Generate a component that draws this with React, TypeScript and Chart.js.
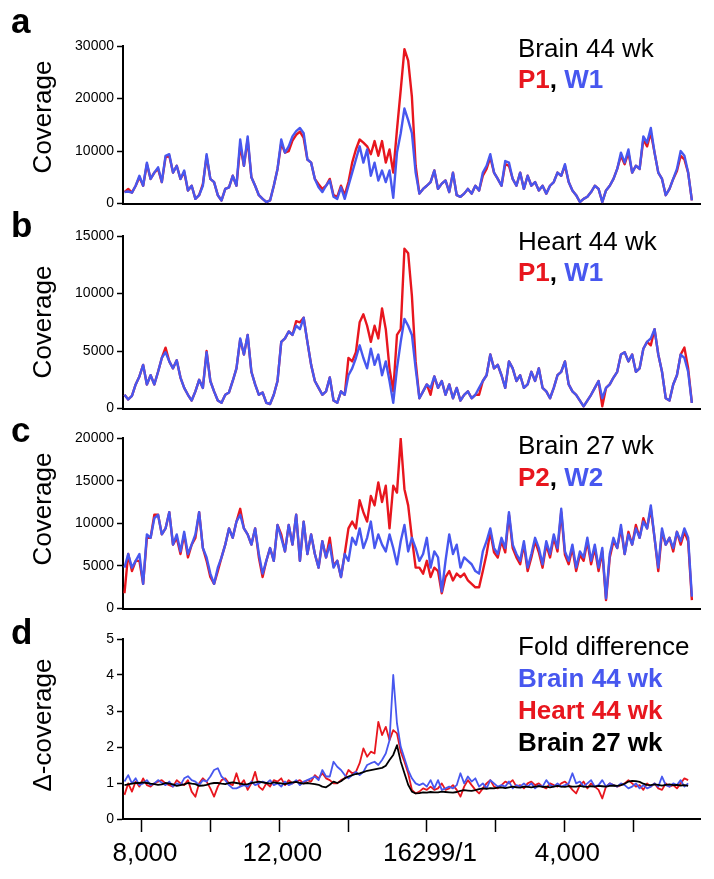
import React, { useEffect, useRef } from 'react';
import { Chart, registerables } from 'chart.js';

Chart.register(...registerables);

const FONT = 'Arial, "Liberation Sans", Helvetica, sans-serif';
const RED = '#e8161e';
const BLUE = '#4757ef';
const BLACK = '#000000';

// genomic axis (unwrapped: positions after 16299/1 are shown as 16299 + pos)
const X_MIN = 7447;
const X_MAX = 24249;
const X_START = 7490;
const X_STEP = 108.7;
const X_TICKS = [8000, 10000, 12000, 14000, 16299, 18299, 20299, 22299];
const X_TICK_LABELS = ['8,000', '', '12,000', '', '16299/1', '', '4,000', ''];

// a: Brain 44 wk
const A_W1 = [2200,2300,2100,3400,5300,3400,7800,4700,5900,6900,
4100,9100,9400,5900,7200,4700,6300,2500,3400,900,
1600,3400,9400,4700,4100,1600,600,2800,3100,5300,
3400,12200,7200,12800,5000,3400,1600,900,300,600,
3400,6600,12200,9700,10900,12800,13800,14400,13400,8400,
7800,4700,3100,2200,3400,4400,1300,900,3100,900,
3400,5900,8400,10900,7800,10300,5300,7800,4400,6300,
4100,6300,1100,9700,13400,18100,15900,13400,5900,1900,
2800,3400,4100,6300,2800,3800,4400,2200,5900,1600,
1300,1900,2800,1900,3400,2500,5900,7200,9400,5900,
4700,3400,8100,7800,4700,3400,5900,2800,5300,3400,
4100,2500,3400,1900,3400,4100,5900,5300,7500,4100,
2500,1600,300,900,1300,2200,3400,2800,300,2500,
3400,4700,6600,9700,7800,10300,5900,7200,6600,12800,
11600,14400,9700,5900,4700,1600,2800,4700,6600,10000,
9100,5900,600];
const A_P1 = [2200,2800,2100,3400,5000,3400,7500,4700,5900,6600,
4100,8800,9100,5900,7200,4700,6000,2500,3400,900,
1600,3700,9000,4700,4100,1600,600,2800,3100,5300,
3400,11000,7200,12200,5000,3400,1600,900,300,600,
3400,6600,11500,9700,10000,12000,13100,13700,12500,8400,
7800,4700,3700,2800,3400,4700,1600,1300,3400,1600,
4100,7800,10300,12200,11600,10900,9400,11900,9100,11900,
7800,10300,5900,14100,21600,29400,27200,20300,7200,1900,
2800,3400,4100,6300,2800,3800,4400,2200,5900,1600,
1300,1900,2800,1900,3400,2500,5300,6600,8800,5900,
4700,3400,7500,7200,4700,3400,5900,2800,5300,3400,
4100,2500,3400,1900,3400,4100,5900,5300,7200,4100,
2500,1600,300,900,1300,2200,3400,2800,300,2500,
3400,4700,6600,9100,7500,9700,5900,7200,6600,12200,
10900,13500,9700,5900,4700,1600,2800,4700,6200,9100,
8400,5900,600];

// b: Heart 44 wk
const B_W1 = [1200,800,1100,2100,2800,3800,2100,2900,2100,3200,
4400,4900,4100,3500,4200,2700,1800,1200,700,1500,
2500,1800,4900,2400,1500,700,500,1200,1400,2400,
3500,6100,4700,6400,3200,2100,1200,1400,500,400,
1200,2400,5800,6100,6700,6400,7200,6900,7900,5800,
3800,2400,1800,1200,1500,2700,700,500,1500,1200,
2900,3500,4400,5500,4400,3500,5200,3800,4700,2900,
4100,2400,500,3500,5800,7800,7200,6400,3500,900,
1500,2100,1800,2800,1800,2400,1200,2100,900,1800,
700,1200,1500,900,1200,1800,2400,2900,4700,3500,
3800,2900,1800,4100,3500,2400,2900,1800,2100,3200,
2400,3500,1800,1500,900,1800,2900,3200,4100,2100,
1500,1200,700,200,700,1200,1800,2400,900,1800,
2100,2700,3200,4700,4900,4100,4700,3200,3500,5200,
5800,6100,6900,4700,3200,900,700,2100,2900,4700,
4400,3200,500];
const B_P1 = [1200,800,1100,2100,2800,3800,2100,2900,2100,3200,
4400,5300,4100,3500,4200,2700,1800,1200,700,1500,
2500,1800,5000,2400,1500,700,500,1200,1400,2400,
3500,6000,4700,6400,3200,2100,1200,1400,500,400,
1200,2400,5800,6100,6700,6400,7600,7500,7900,5800,
3800,2400,1800,1200,1500,2700,700,500,1500,1200,
4400,4100,4900,7500,8200,7200,5800,7200,6100,8700,
6900,3500,1500,6400,6900,13900,13500,9800,4100,900,
1500,2100,1200,2800,1800,2400,1200,2100,900,1800,
700,1200,1500,900,1200,1200,2400,2900,4700,3500,
3800,2900,1800,4100,3500,2400,2900,1800,2100,3200,
2400,3500,1800,1500,900,1800,2900,3200,4100,2100,
1500,1200,700,200,700,1200,1800,2400,200,1800,
2100,2700,3200,4700,4900,4100,4700,3200,3500,5200,
5800,5500,6900,4700,3200,900,700,2100,2900,4700,
5300,3500,500];

// c: Brain 27 wk
const C_W2 = [4800,6400,4800,5600,6400,2900,8700,8300,10600,11000,
8700,9400,11300,7500,8700,6700,9000,6400,7500,8700,
11300,7100,6000,4100,2900,4800,6000,7500,9400,8300,
10200,11000,9400,8700,7500,9400,6400,4100,5600,7100,
5600,9800,8300,6700,9800,7500,11000,5600,10200,6400,
8700,6400,4800,7900,6000,7500,4800,5600,3700,6400,
5600,8300,7500,9400,7100,8300,10200,7100,8700,7500,
6700,8700,7100,5200,7900,9800,6700,8300,7100,5600,
6400,8300,4800,6700,6000,2000,5600,8700,6400,7500,
4800,6000,5600,5200,4400,4100,6700,7900,9400,7100,
6400,8300,7100,11300,7500,6400,5600,7900,4800,6400,
8300,7100,5200,7900,6400,8700,7100,11700,6700,5600,
7500,4800,6700,6000,8300,5600,7500,4800,7100,1200,
6400,8300,7100,9800,6400,8700,7500,9400,8300,10200,
9400,12100,8300,4800,9400,7500,8300,7100,9000,7900,
9400,8300,1400];
const C_P2 = [1800,6400,4400,5600,5600,2900,8300,8300,11000,11000,
8700,9400,11300,7500,8300,6400,8700,6000,7500,8300,
11300,7100,5600,3700,2900,4400,6000,7500,9400,8300,
10200,11700,9400,8700,7500,9400,6000,3700,5600,7100,
5600,9800,8700,6700,9800,7500,11000,5600,10200,6400,
8700,6400,4800,7900,6000,8300,5000,5600,3700,6400,
9400,10200,9400,12700,11300,10200,13200,12100,14800,12500,
14400,9400,14400,13600,19900,14000,12100,8300,4800,4800,
4100,5600,3700,4800,4400,1800,3700,4400,3300,4100,
3700,4100,3300,2900,2500,2500,4400,6400,9000,6600,
6000,7900,6600,11000,7100,6000,5200,7500,4400,6000,
7900,6600,4800,7500,6000,8300,6700,11300,6300,5200,
7100,4400,6300,5600,7900,5200,7100,4400,6700,1000,
6000,7900,7100,9400,6400,9000,7500,9800,8300,10600,
9400,11700,8300,4400,9000,7500,8300,6700,9000,7500,
9000,7900,1000];

// d: fold difference
const D_BRAIN44 = [1.04,1.22,0.99,1.13,0.94,0.99,1.08,0.94,0.99,1.08,
1.01,0.94,1.04,0.90,0.99,0.94,1.13,1.19,1.08,1.04,
0.94,1.08,1.04,1.18,1.36,1.41,1.18,1.08,0.94,0.85,
0.85,0.90,0.94,0.90,1.04,0.94,0.99,1.04,0.99,1.08,
0.94,0.99,0.90,1.04,0.94,0.99,1.08,0.94,1.04,1.08,
1.13,1.18,1.08,1.36,1.18,1.18,1.59,1.45,1.36,1.22,
1.13,1.22,1.31,1.22,1.31,1.50,1.55,1.59,1.50,1.64,
1.82,2.19,4.00,2.66,2.01,1.69,1.36,1.13,0.99,0.94,
0.99,0.90,1.08,0.85,1.08,0.81,0.85,0.90,0.85,0.94,
1.27,0.99,1.18,1.04,1.13,0.90,0.99,0.85,1.08,0.99,
0.90,0.94,0.90,1.04,0.85,0.94,0.90,0.99,0.90,0.99,
0.85,0.94,0.90,1.08,0.94,0.90,0.99,0.90,0.94,0.99,
1.27,0.99,1.04,0.90,0.99,1.08,0.90,0.94,1.08,0.90,
0.99,0.94,0.90,0.99,0.94,0.85,0.90,0.99,0.85,0.94,
0.85,0.90,0.99,0.90,1.18,0.94,0.90,0.99,0.94,1.08,
0.90,0.99];
const D_HEART44 = [0.67,0.99,0.76,1.04,0.90,1.13,0.94,0.90,0.99,1.04,
1.08,0.99,0.94,0.90,1.08,0.99,0.94,1.08,0.76,0.62,
0.99,1.13,1.04,0.85,0.62,0.90,1.08,1.13,0.99,0.94,
1.27,0.94,1.08,0.81,0.99,1.31,0.90,0.81,0.99,0.90,
1.08,1.04,1.13,0.94,1.08,0.99,1.04,1.08,0.99,1.08,
1.04,1.22,1.13,1.27,1.13,1.08,0.99,0.99,1.08,1.13,
1.36,1.27,1.31,1.55,1.96,1.73,1.87,1.82,2.70,2.33,
2.56,2.19,2.47,2.38,1.87,1.59,1.27,0.81,0.71,0.76,
0.85,0.81,0.90,0.81,0.85,0.99,0.81,0.85,0.94,0.81,
0.62,0.90,1.08,0.94,0.81,0.71,0.85,0.99,1.08,0.90,
0.85,0.94,1.04,0.99,1.08,0.90,0.94,0.85,0.99,1.04,
0.94,0.99,0.90,0.85,0.99,0.94,0.90,0.99,1.04,0.94,
0.81,0.71,0.94,1.04,0.85,0.99,0.90,0.81,0.57,0.90,
0.99,0.94,0.90,0.94,0.99,1.08,0.99,0.90,0.94,0.81,
0.99,0.90,0.99,0.85,0.81,0.99,0.90,0.94,0.85,0.99,
1.13,1.08];
const D_BRAIN27 = [0.94,0.96,0.98,1.0,1.0,1.02,1.0,0.98,0.97,0.95,
0.96,1.0,0.98,0.96,0.92,0.94,0.96,1.0,0.98,0.97,
0.92,0.93,0.95,0.98,1.0,1.0,0.98,0.97,1.0,1.02,
1.0,0.98,0.96,0.97,1.0,1.02,1.04,1.02,1.0,0.98,
1.02,1.0,0.99,0.97,1.0,1.02,1.03,1.0,0.98,1.0,
0.98,0.97,0.95,0.90,0.88,0.95,1.04,1.0,1.05,1.13,
1.18,1.22,1.25,1.27,1.3,1.34,1.36,1.38,1.4,1.42,
1.48,1.64,1.78,2.05,1.6,1.27,0.95,0.76,0.71,0.72,
0.74,0.73,0.75,0.74,0.74,0.76,0.75,0.74,0.73,0.75,
0.78,0.8,0.79,0.78,0.8,0.83,0.85,0.84,0.86,0.85,
0.87,0.88,0.86,0.88,0.9,0.88,0.87,0.9,0.89,0.88,
0.9,0.91,0.89,0.9,0.88,0.9,0.92,0.9,0.89,0.91,
0.9,0.9,0.92,0.9,0.89,0.91,0.9,0.92,0.91,0.9,
0.92,0.93,0.92,0.94,0.98,1.04,1.06,1.05,1.03,0.98,
0.95,0.94,0.96,0.95,0.93,0.95,0.96,0.94,0.95,0.93,
0.94,0.92];

type Series = { data: number[]; color: string; width: number };

type PanelProps = {
  top: number;
  height: number;
  padTop: number;
  padBottom: number;
  yMax: number;
  yStep: number;
  series: Series[];
  xLabels: boolean;
  halfTicks?: boolean;
};

function LinePanel(p: PanelProps) {
  const ref = useRef<HTMLCanvasElement | null>(null);
  useEffect(() => {
    if (!ref.current) return;
    const chart = new Chart(ref.current, {
      type: 'line',
      data: {
        datasets: p.series.map((s) => ({
          data: s.data.map((y, i) => ({ x: X_START + i * X_STEP, y })),
          borderColor: s.color,
          borderWidth: s.width,
          pointRadius: 0,
          tension: 0,
          fill: false,
          borderJoinStyle: 'round' as const,
        })),
      },
      options: {
        responsive: false,
        animation: false,
        devicePixelRatio: 1,
        events: [],
        layout: { padding: { top: p.padTop, bottom: p.padBottom, left: 0, right: 14 } },
        plugins: { legend: { display: false }, tooltip: { enabled: false } },
        scales: {
          x: {
            type: 'linear',
            min: X_MIN,
            max: X_MAX,
            afterBuildTicks: (s: any) => {
              s.ticks = X_TICKS.map((v) => ({ value: v }));
            },
            ticks: {
              display: p.xLabels,
              autoSkip: false,
              maxRotation: 0,
              minRotation: 0,
              padding: 6,
              labelOffset: 3,
              color: '#000',
              font: { family: FONT, size: 26 },
              callback: (_v: any, i: number) => X_TICK_LABELS[i] ?? '',
            },
            grid: {
              display: true,
              drawOnChartArea: false,
              drawTicks: p.xLabels,
              tickLength: 13,
              tickWidth: 1.5,
              tickColor: '#000',
            },
            border: { display: true, color: '#000', width: 2 },
            afterFit: (s: any) => {
              s.height = p.xLabels ? 60 : 0;
            },
          },
          y: {
            min: 0,
            max: p.yMax,
            ticks: {
              stepSize: p.yStep,
              padding: 3,
              color: '#000',
              font: { family: FONT, size: 14 },
              callback: (v: any) =>
                p.halfTicks ? (Number.isInteger(v) ? String(v) : '') : String(v),
            },
            grid: {
              display: true,
              drawOnChartArea: false,
              drawTicks: true,
              tickLength: 6,
              tickWidth: 1.5,
              tickColor: '#000',
            },
            border: { display: true, color: '#000', width: 2 },
            afterFit: (s: any) => {
              s.width = 123;
            },
          },
        },
      },
    });
    return () => chart.destroy();
  }, []);
  return (
    <canvas
      ref={ref}
      width={714}
      height={p.height}
      style={{ position: 'absolute', left: 0, top: p.top, width: 714, height: p.height }}
    />
  );
}

type Txt = { text: string; left: number; top: number; size: number; bold?: boolean; color?: string };

const texts: Txt[] = [
  { text: 'a', left: 11, top: 3, size: 35, bold: true },
  { text: 'b', left: 11, top: 207, size: 35, bold: true },
  { text: 'c', left: 11, top: 412, size: 35, bold: true },
  { text: 'd', left: 11, top: 614, size: 35, bold: true },
  { text: 'Brain 44 wk', left: 518, top: 35, size: 26 },
  { text: 'Heart 44 wk', left: 518, top: 228, size: 26 },
  { text: 'Brain 27 wk', left: 518, top: 432, size: 26 },
  { text: 'Fold difference', left: 518, top: 633, size: 26 },
  { text: 'Brain 44 wk', left: 518, top: 665, size: 26, bold: true, color: BLUE },
  { text: 'Heart 44 wk', left: 518, top: 697, size: 26, bold: true, color: RED },
  { text: 'Brain 27 wk', left: 518, top: 729, size: 26, bold: true, color: BLACK },
];

function Pair(props: { a: string; b: string; top: number }) {
  return (
    <div
      style={{
        position: 'absolute',
        left: 518,
        top: props.top,
        fontFamily: FONT,
        fontSize: 26,
        lineHeight: '26px',
        fontWeight: 'bold',
        whiteSpace: 'nowrap',
        color: '#000',
      }}
    >
      <span style={{ color: RED }}>{props.a}</span>
      <span>, </span>
      <span style={{ color: BLUE }}>{props.b}</span>
    </div>
  );
}

function YTitle(props: { text: string; cx: number; cy: number }) {
  return (
    <div
      style={{
        position: 'absolute',
        left: props.cx - 100,
        top: props.cy - 13,
        width: 200,
        height: 26,
        lineHeight: '26px',
        fontFamily: FONT,
        fontSize: 26,
        textAlign: 'center',
        whiteSpace: 'nowrap',
        transform: 'rotate(-90deg)',
        color: '#000',
      }}
    >
      {props.text}
    </div>
  );
}

export default function App() {
  return (
    <div
      style={{
        position: 'absolute',
        left: 0,
        top: 0,
        width: 714,
        height: 879,
        background: '#fff',
        overflow: 'hidden',
      }}
    >
      <LinePanel
        top={0}
        height={215}
        padTop={46}
        padBottom={9}
        yMax={30000}
        yStep={10000}
        xLabels={false}
        series={[
          { data: A_W1, color: BLUE, width: 2.4 },
          { data: A_P1, color: RED, width: 2.4 },
        ]}
      />
      <LinePanel
        top={215}
        height={205}
        padTop={21}
        padBottom={9}
        yMax={15000}
        yStep={5000}
        xLabels={false}
        series={[
          { data: B_W1, color: BLUE, width: 2.4 },
          { data: B_P1, color: RED, width: 2.4 },
        ]}
      />
      <LinePanel
        top={420}
        height={200}
        padTop={18}
        padBottom={8}
        yMax={20000}
        yStep={5000}
        xLabels={false}
        series={[
          { data: C_W2, color: BLUE, width: 2.4 },
          { data: C_P2, color: RED, width: 2.4 },
        ]}
      />
      <LinePanel
        top={620}
        height={259}
        padTop={19}
        padBottom={0}
        yMax={5}
        yStep={0.5}
        halfTicks
        xLabels
        series={[
          { data: D_BRAIN27, color: BLACK, width: 1.8 },
          { data: D_BRAIN44, color: BLUE, width: 1.8 },
          { data: D_HEART44, color: RED, width: 1.8 },
        ]}
      />
      {texts.map((t, i) => (
        <div
          key={i}
          style={{
            position: 'absolute',
            left: t.left,
            top: t.top,
            fontFamily: FONT,
            fontSize: t.size,
            lineHeight: t.size + 'px',
            fontWeight: t.bold ? 'bold' : 'normal',
            color: t.color ?? '#000',
            whiteSpace: 'nowrap',
          }}
        >
          {t.text}
        </div>
      ))}
      <Pair a="P1" b="W1" top={66} />
      <Pair a="P1" b="W1" top={259} />
      <Pair a="P2" b="W2" top={464} />
      <YTitle text="Coverage" cx={42} cy={117} />
      <YTitle text="Coverage" cx={42} cy={322} />
      <YTitle text="Coverage" cx={42} cy={509} />
      <YTitle text="Δ-coverage" cx={42} cy={725} />
    </div>
  );
}
